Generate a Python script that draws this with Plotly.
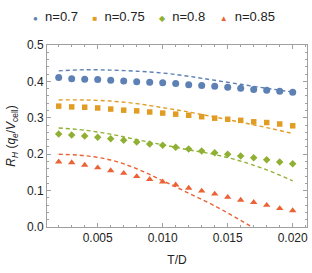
import plotly.graph_objects as go

T = [0.002, 0.003, 0.004, 0.005, 0.006, 0.007, 0.008, 0.009, 0.010, 0.011,
     0.012, 0.013, 0.014, 0.015, 0.016, 0.017, 0.018, 0.019, 0.020]

pts_07 = [0.411, 0.407, 0.406, 0.405, 0.403, 0.401, 0.399, 0.398, 0.396, 0.394,
          0.391, 0.389, 0.387, 0.384, 0.381, 0.378, 0.376, 0.373, 0.370]
pts_075 = [0.332, 0.330, 0.329, 0.327, 0.324, 0.321, 0.319, 0.316, 0.313, 0.310,
           0.307, 0.303, 0.299, 0.296, 0.293, 0.289, 0.287, 0.283, 0.278]
pts_08 = [0.2555, 0.2527, 0.250, 0.2464, 0.2426, 0.2381, 0.2335, 0.228, 0.2244, 0.219,
          0.2143, 0.2088, 0.2041, 0.1997, 0.195, 0.1904, 0.1849, 0.1786, 0.1739]
pts_085 = [0.179, 0.177, 0.170, 0.163, 0.155, 0.148, 0.139, 0.131, 0.124, 0.116,
           0.107, 0.099, 0.091, 0.082, 0.074, 0.068, 0.060, 0.051, 0.045]

T_curve = [0.002, 0.004, 0.006, 0.008, 0.010, 0.012, 0.014, 0.016, 0.018, 0.020]
curve_07 = [0.429, 0.432, 0.431, 0.428, 0.423, 0.414, 0.403, 0.392, 0.381, 0.371]
curve_075 = [0.349, 0.349, 0.346, 0.339, 0.328, 0.316, 0.302, 0.288, 0.273, 0.257]
curve_08 = [0.272, 0.266, 0.255, 0.240, 0.226, 0.212, 0.199, 0.181, 0.157, 0.127]
curve_085 = [0.200, 0.196, 0.184, 0.160, 0.127, 0.093, 0.058, 0.018, -0.025, -0.072]

labels = ["n=0.7", "n=0.75", "n=0.8", "n=0.85"]
colors = ["#5E81B5", "#E19C24", "#8FB032", "#EB6235"]
symbols = ["circle", "square", "diamond", "triangle-up"]
legend_glyphs = ["\u25CF", "\u25A0", "\u25C6", "\u25B2"]
sizes = [7, 5.5, 5.8, 6.5]
pts = [pts_07, pts_075, pts_08, pts_085]
curves = [curve_07, curve_075, curve_08, curve_085]

fig = go.Figure()
for lab, c, s, sz, p, cv in zip(labels, colors, symbols, sizes, pts, curves):
    fig.add_trace(go.Scatter(x=T_curve, y=cv, mode="lines", line_shape="spline",
                             line=dict(color=c, width=1.4, dash="4px,3px"),
                             showlegend=False, hoverinfo="skip"))
    fig.add_trace(go.Scatter(x=T, y=p, mode="markers", name=lab,
                             marker=dict(color=c, symbol=s, size=sz, line_width=0),
                             showlegend=False))

FONT = "Liberation Sans"
axis_common = dict(showline=True, linecolor="#a0a0a0", linewidth=1, mirror="allticks",
                   ticks="inside", ticklen=4, tickcolor="#a0a0a0", showgrid=False,
                   zeroline=False, automargin=False,
                   tickfont=dict(family=FONT, size=12, color="#222"))

fig.update_xaxes(range=[0.0011, 0.0211], tickvals=[0.005, 0.010, 0.015, 0.020],
                 ticktext=["0.005", "0.010", "0.015", "0.020"],
                 minor=dict(ticks="inside", ticklen=2, tickcolor="#a0a0a0", dtick=0.001, tick0=0),
                 title=dict(text="T/D", font=dict(family=FONT, size=12, color="#222"),
                            standoff=11),
                 **axis_common)
fig.update_yaxes(range=[0, 0.5], tickvals=[0, 0.1, 0.2, 0.3, 0.4, 0.5],
                 ticktext=["0.0", "0.1", "0.2", "0.3", "0.4", "0.5"],
                 minor=dict(ticks="inside", ticklen=2, tickcolor="#a0a0a0", dtick=0.02, tick0=0),
                 title=dict(text="<i>R</i><sub><i>H</i></sub> (<i>q</i><sub><i>e</i></sub>/<i>V</i><sub>cell</sub>)",
                            font=dict(family=FONT, size=12, color="#222"),
                            standoff=8),
                 **axis_common)

# legend row drawn as one text line above the plot
entries = [f"<span style='color:{c};font-size:8px'>{g}</span>&nbsp;&nbsp;{lab}"
           for g, c, lab in zip(legend_glyphs, colors, labels)]
fig.add_annotation(
    x=0.4115, y=1.154, xref="paper", yref="paper", xanchor="center", yanchor="middle",
    showarrow=False, text="&nbsp;&nbsp;&nbsp;&nbsp;".join(entries),
    font=dict(family=FONT, size=13, color="#222"))

fig.update_layout(width=312, height=273,
                  margin=dict(l=47, r=5, t=45, b=46, autoexpand=False),
                  plot_bgcolor="white", paper_bgcolor="white",
                  showlegend=False)

fig.write_html("out.html", config={"displayModeBar": False},
               post_script="document.body.style.margin='0';")
